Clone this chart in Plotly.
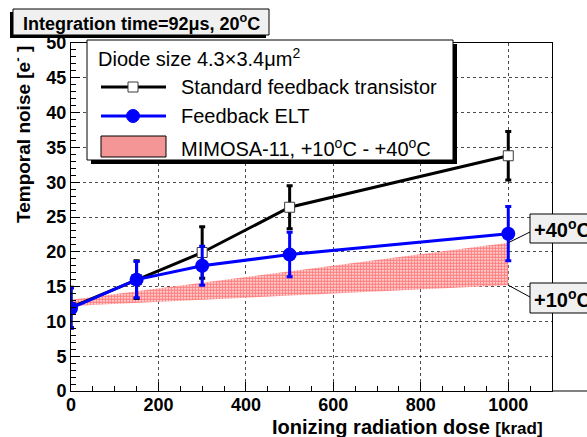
import plotly.graph_objects as go

# Dose points [krad]
dose = [0, 150, 300, 500, 1000]

# Standard feedback transistor: noise [e-] and errors
noise_std = [12.0, 16.0, 19.9, 26.4, 33.8]
err_std = [2.9, 2.7, 3.7, 3.1, 3.5]

# Feedback ELT: noise [e-] and errors
noise_elt = [11.9, 16.0, 18.0, 19.6, 22.6]
err_elt = [2.9, 2.6, 2.8, 3.2, 3.9]

# MIMOSA-11 band between +10C and +40C
band_dose = [0, 1000]
band_lo = [12.2, 15.2]
band_hi = [13.1, 21.3]

x_ticks = [0, 200, 400, 600, 800, 1000]

FONT = "Liberation Sans"

# frame geometry in pixels
L, R, T, B = 71, 552, 43, 391
W, H = R - L, B - T


def px(x):
    return (x - L) / W


def py(y):
    return (B - y) / H


fig = go.Figure()

# MIMOSA-11 band
fig.add_trace(go.Scatter(
    x=band_dose + band_dose[::-1],
    y=band_lo + band_hi[::-1],
    fill="toself",
    mode="lines",
    line=dict(width=0, color="rgba(0,0,0,0)"),
    fillcolor="rgba(255,255,255,0)",
    fillpattern=dict(shape=".", fgcolor="rgb(255,0,0)", bgcolor="white",
                     size=3, solidity=0.75),
    hoverinfo="skip",
))

# Standard feedback transistor
fig.add_trace(go.Scatter(
    x=dose, y=noise_std, mode="lines+markers",
    line=dict(color="black", width=3),
    marker=dict(symbol="square", size=10, color="white",
                line=dict(color="rgb(60,60,60)", width=1)),
    error_y=dict(type="data", array=err_std, visible=True,
                 color="black", thickness=3, width=3),
))

# Feedback ELT
fig.add_trace(go.Scatter(
    x=dose, y=noise_elt, mode="lines+markers",
    line=dict(color="rgb(0,0,255)", width=3),
    marker=dict(symbol="circle", size=14, color="rgb(0,0,255)"),
    error_y=dict(type="data", array=err_elt, visible=True,
                 color="rgb(0,0,255)", thickness=3, width=3),
))

shapes = []
annotations = []

# x axis line continues past the frame
shapes.append(dict(type="line", xref="paper", yref="paper",
                   x0=1, x1=px(600), y0=0, y1=0,
                   line=dict(color="black", width=1), layer="above"))

# Title box with shadow
shapes.append(dict(type="rect", xref="paper", yref="paper",
                   x0=px(10), x1=px(266), y0=py(12), y1=py(38),
                   fillcolor="black", line=dict(width=0), layer="above"))
shapes.append(dict(type="rect", xref="paper", yref="paper",
                   x0=px(13), x1=px(269), y0=py(9), y1=py(35),
                   fillcolor="rgb(240,240,240)",
                   line=dict(color="black", width=1), layer="above"))
annotations.append(dict(
    xref="paper", yref="paper", x=px(141), y=py(22),
    xanchor="center", yanchor="middle", showarrow=False,
    text="Integration time=92\u03bcs, 20<sup>o</sup>C",
    font=dict(family=FONT, size=18, color="black", weight="bold"),
))

# Legend box with shadow
shapes.append(dict(type="rect", xref="paper", yref="paper",
                   x0=px(91), x1=px(457), y0=py(164), y1=py(44),
                   fillcolor="black", line=dict(width=0), layer="above"))
shapes.append(dict(type="rect", xref="paper", yref="paper",
                   x0=px(87), x1=px(453), y0=py(160), y1=py(40),
                   fillcolor="white", line=dict(color="black", width=1),
                   layer="above"))

annotations.append(dict(
    xref="paper", yref="paper", x=px(96), y=py(57),
    xanchor="left", yanchor="middle", showarrow=False,
    text="Diode size 4.3\u00d73.4\u03bcm<sup>2</sup>",
    font=dict(family=FONT, size=20, color="black"),
))

# legend entry: standard transistor
shapes.append(dict(type="line", xref="paper", yref="paper",
                   x0=px(101), x1=px(166), y0=py(87), y1=py(87),
                   line=dict(color="black", width=3), layer="above"))
shapes.append(dict(type="rect", xref="paper", yref="paper",
                   x0=px(128), x1=px(138), y0=py(92), y1=py(82),
                   fillcolor="white", line=dict(color="rgb(60,60,60)", width=1),
                   layer="above"))
annotations.append(dict(
    xref="paper", yref="paper", x=px(179), y=py(87),
    xanchor="left", yanchor="middle", showarrow=False,
    text="Standard feedback transistor",
    font=dict(family=FONT, size=20, color="black"),
))

# legend entry: ELT
shapes.append(dict(type="line", xref="paper", yref="paper",
                   x0=px(101), x1=px(166), y0=py(116), y1=py(116),
                   line=dict(color="rgb(0,0,255)", width=3), layer="above"))
shapes.append(dict(type="circle", xref="paper", yref="paper",
                   x0=px(126.5), x1=px(139.5), y0=py(122.5), y1=py(109.5),
                   fillcolor="rgb(0,0,255)", line=dict(color="rgb(0,0,255)", width=1),
                   layer="above"))
annotations.append(dict(
    xref="paper", yref="paper", x=px(179), y=py(116),
    xanchor="left", yanchor="middle", showarrow=False,
    text="Feedback ELT",
    font=dict(family=FONT, size=20, color="black"),
))

# legend entry: MIMOSA-11 band
shapes.append(dict(type="rect", xref="paper", yref="paper",
                   x0=px(101), x1=px(166), y0=py(157), y1=py(136),
                   fillcolor="rgb(245,150,150)", line=dict(color="black", width=1),
                   layer="above"))
annotations.append(dict(
    xref="paper", yref="paper", x=px(179), y=py(147),
    xanchor="left", yanchor="middle", showarrow=False,
    text="MIMOSA-11, +10<sup>o</sup>C - +40<sup>o</sup>C",
    font=dict(family=FONT, size=20, color="black"),
))

# Temperature labels with leader lines to the band edges
x_per_px = 1100 / W
y_per_px = 50 / H
for val, box_top, box_bot, end_y, label in [
    (band_hi[-1], 214, 243, 232, "+40<sup>o</sup>C"),
    (band_lo[-1], 283, 313, 297, "+10<sup>o</sup>C"),
]:
    shapes.append(dict(type="line", xref="x", yref="y",
                       x0=band_dose[-1], y0=val,
                       x1=(530 - L) * x_per_px, y1=(B - end_y) * y_per_px,
                       line=dict(color="black", width=1), layer="above"))
    shapes.append(dict(type="rect", xref="paper", yref="paper",
                       x0=px(530), x1=px(600), y0=py(box_bot), y1=py(box_top),
                       fillcolor="rgb(240,240,240)",
                       line=dict(color="black", width=1), layer="above"))
    annotations.append(dict(
        xref="paper", yref="paper", x=px(532), y=py((box_top + box_bot) / 2),
        xanchor="left", yanchor="middle", showarrow=False,
        text=label,
        font=dict(family=FONT, size=20, color="black", weight="bold"),
    ))

# Axis titles
annotations.append(dict(
    xref="paper", yref="paper", x=px(22), y=py(135),
    xanchor="center", yanchor="middle", showarrow=False, textangle=-90,
    text="Temporal noise [e<sup>-</sup> ]",
    font=dict(family=FONT, size=19, color="black", weight="bold"),
))
annotations.append(dict(
    xref="paper", yref="paper", x=px(545), y=py(427),
    xanchor="right", yanchor="middle", showarrow=False,
    text="Ionizing radiation dose <span style='font-size:17px'>[krad]</span>",
    font=dict(family=FONT, size=20, color="black", weight="bold"),
))

grid = dict(showgrid=True, gridcolor="rgba(0,0,0,0.7)", griddash="dot", gridwidth=1)

fig.update_layout(
    width=587, height=437,
    margin=dict(l=L, r=587 - R, t=T, b=437 - B, pad=0),
    paper_bgcolor="white", plot_bgcolor="white",
    showlegend=False,
    font=dict(family=FONT, color="black"),
    shapes=shapes,
    annotations=annotations,
    xaxis=dict(
        range=[0, 1100], tickvals=x_ticks, ticktext=[str(v) for v in x_ticks],
        ticks="inside", ticklen=9, tickwidth=1, tickcolor="black",
        ticklabelstandoff=-3,
        showline=True, linecolor="black", linewidth=1, mirror=True,
        zeroline=False,
        minor=dict(dtick=50, tick0=0, ticks="inside", ticklen=5,
                   tickcolor="black", showgrid=False),
        tickfont=dict(family=FONT, size=18, color="black", weight="bold"),
        **grid,
    ),
    yaxis=dict(
        range=[0, 50], dtick=5, tick0=0,
        ticks="inside", ticklen=9, tickwidth=1, tickcolor="black",
        showline=True, linecolor="black", linewidth=1, mirror=True,
        zeroline=False,
        minor=dict(dtick=1, tick0=0, ticks="inside", ticklen=5,
                   tickcolor="black", showgrid=False),
        tickfont=dict(family=FONT, size=18, color="black", weight="bold"),
        **grid,
    ),
)

fig.write_html("out.html")
